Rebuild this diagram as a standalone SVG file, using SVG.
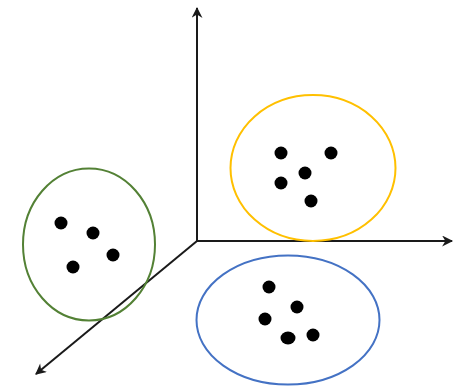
<svg xmlns="http://www.w3.org/2000/svg" width="458" height="387" viewBox="0 0 458 387">
<style>
.axis{stroke:#1a1a1a;stroke-width:2;fill:none}
.dot{fill:#000}
.cl{fill:none;stroke-width:2}
</style>
<defs>
<marker id="ah" viewBox="0 0 10 10" refX="9" refY="5" markerWidth="12" markerHeight="11" markerUnits="userSpaceOnUse" orient="auto">
<path d="M0,0 L10,5 L0,10 L3,5 Z" fill="#1a1a1a"/>
</marker>
</defs>
<rect width="458" height="387" fill="#fff"/>
<g id="connectors">
<line class="axis" x1="197" y1="241" x2="197" y2="8" marker-end="url(#ah)"/>
<line class="axis" x1="197" y1="241" x2="452" y2="241" marker-end="url(#ah)"/>
<line class="axis" x1="197" y1="241" x2="36" y2="374" marker-end="url(#ah)"/>
</g>
<g id="cluster-yellow">
<ellipse class="cl" cx="313" cy="168" rx="82.5" ry="73" stroke="#FFC000"/>
<circle class="dot" cx="281" cy="153" r="6.5"/>
<circle class="dot" cx="331" cy="153" r="6.5"/>
<circle class="dot" cx="305" cy="173" r="6.5"/>
<circle class="dot" cx="281" cy="183" r="6.5"/>
<circle class="dot" cx="311" cy="201" r="6.5"/>
</g>
<g id="cluster-blue">
<ellipse class="cl" cx="288" cy="320" rx="91.5" ry="64.5" stroke="#4472C4"/>
<circle class="dot" cx="269" cy="287" r="6.5"/>
<circle class="dot" cx="297" cy="307" r="6.5"/>
<circle class="dot" cx="265" cy="319" r="6.5"/>
<ellipse class="dot" cx="288" cy="338" rx="7.5" ry="6.5"/>
<circle class="dot" cx="313" cy="335" r="6.5"/>
</g>
<g id="cluster-green">
<ellipse class="cl" cx="89" cy="244.5" rx="66" ry="76" stroke="#538135"/>
<circle class="dot" cx="61" cy="223" r="6.5"/>
<circle class="dot" cx="93" cy="233" r="6.5"/>
<circle class="dot" cx="113" cy="255" r="6.5"/>
<circle class="dot" cx="73" cy="267" r="6.5"/>
</g>
</svg>
